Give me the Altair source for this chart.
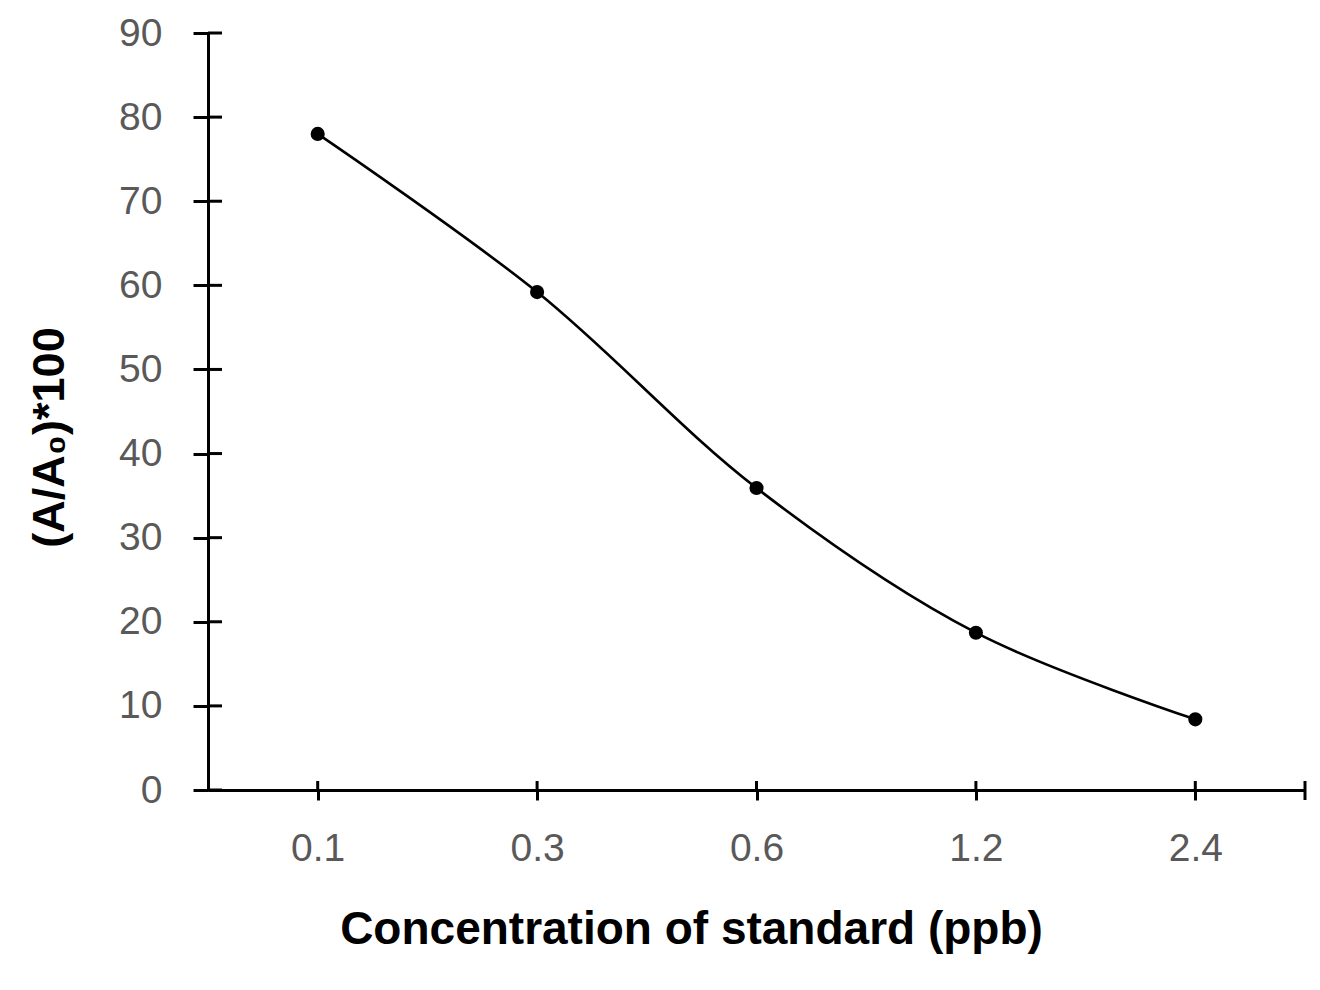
import altair as alt
import pandas as pd

concentrations = ["0.1", "0.3", "0.6", "1.2", "2.4"]
ratios = [78.0, 59.2, 35.9, 18.7, 8.4]
y_ticks = [0, 10, 20, 30, 40, 50, 60, 70, 80, 90]

W, H = 1097, 757
FONT = "Liberation Sans"

df = pd.DataFrame({"conc": concentrations, "ratio": ratios})
ticks_df = pd.DataFrame({"ratio": y_ticks})
cat_df = pd.DataFrame({"conc": concentrations})

xscale = alt.Scale(type="point", padding=0.5, domain=concentrations)
yscale = alt.Scale(domain=[0, 90], nice=False, zero=True)

x_axis = alt.Axis(
    labelAngle=0, labelFont=FONT, labelFontSize=39, labelColor="#595959",
    labelPadding=29, tickSize=10, tickWidth=3, tickColor="black",
    domainColor="black", domainWidth=3, grid=False,
    title="Concentration of standard (ppb)", titleFont=FONT, titleFontSize=46,
    titleFontWeight="bold", titleColor="black", titleX=483, titleY=117,
)
y_axis = alt.Axis(
    values=y_ticks, labelFont=FONT, labelFontSize=39, labelColor="#595959",
    labelPadding=31, tickSize=15, tickWidth=3, tickColor="black",
    domainColor="black", domainWidth=3, grid=False,
    title="(A/A₀)*100", titleFont=FONT, titleFontSize=45,
    titleFontWeight="bold", titleColor="black", titleX=-136, titleY=404,
)

X = alt.X("conc:N", scale=xscale, axis=x_axis, sort=concentrations)
Y = alt.Y("ratio:Q", scale=yscale, axis=y_axis)

line = alt.Chart(df).mark_line(
    interpolate="catmull-rom", color="black", strokeWidth=2.6
).encode(x=X, y=Y)

points = alt.Chart(df).mark_circle(color="black", opacity=1, size=200).encode(x=X, y=Y)

y_inner = alt.Chart(ticks_df).mark_rule(color="black", strokeWidth=3).encode(
    y=Y,
    x=alt.value(0),
    x2=alt.value(14),
)

x_inner = alt.Chart(cat_df).mark_rule(color="black", strokeWidth=3).encode(
    x=X,
    y=alt.value(H - 9),
    y2=alt.value(H),
)

end_tick = alt.Chart(cat_df.head(1)).mark_rule(color="black", strokeWidth=3).encode(
    x=alt.value(W),
    y=alt.value(H - 9),
    y2=alt.value(H + 10),
)

chart = alt.layer(line, y_inner, x_inner, end_tick, points).properties(
    width=W, height=H,
    autosize=alt.AutoSizeParams(type="none"),
    padding={"left": 208, "top": 33, "right": 15, "bottom": 200},
).configure(background="white").configure_view(stroke=None)

chart.save("out.html", embed_options={"renderer": "svg", "actions": False})
